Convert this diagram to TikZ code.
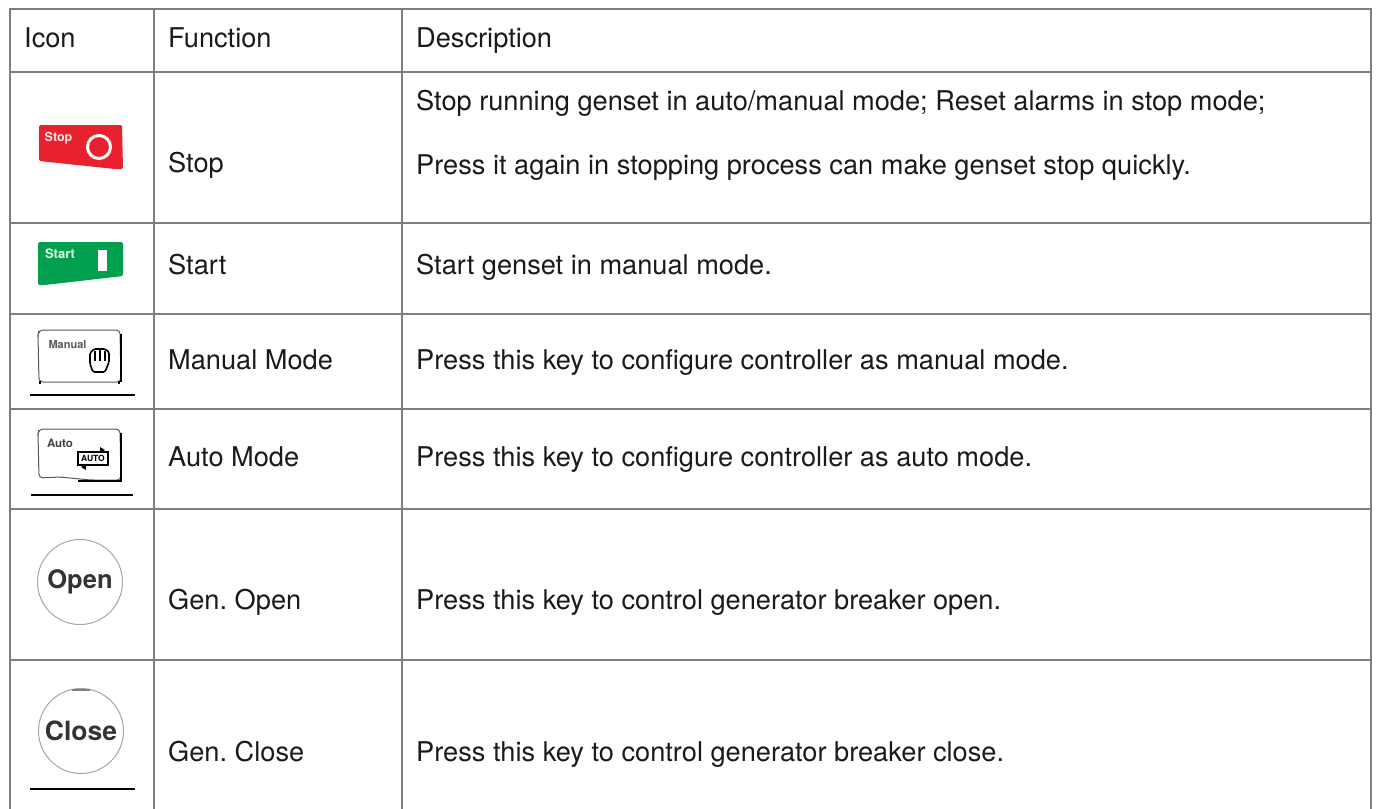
\documentclass[tikz,border=0pt]{standalone}
\usepackage{fontspec}
\setmainfont{TeX Gyre Heros}
\frenchspacing
\definecolor{grid}{HTML}{7F7F7F}
\definecolor{txt}{HTML}{1A1A1A}
\definecolor{stopred}{HTML}{E8212E}
\definecolor{startgreen}{HTML}{00A04F}
\tikzset{
  gridline/.style={draw=grid,line width=2pt},
  cell/.style={anchor=base west,inner sep=0pt,text=txt,font=\fontsize{27.2}{30}\selectfont},
  rulebar/.style={draw=black,line width=1.4pt},
  keybox/.style={draw=black!65,line width=1pt,rounded corners=4pt},
  keyedge/.style={draw=black,line width=2pt},
  tinylabel/.style={inner sep=0pt,font=\fontsize{12.5}{13}\selectfont\bfseries},
  roundkey/.style={circle,draw=black!35,line width=1pt,inner sep=0pt,minimum size=85pt},
  roundlabel/.style={inner sep=0pt,text=black!80,font=\fontsize{25.5}{28}\selectfont\bfseries}
}
\begin{document}
\begin{tikzpicture}[x=1pt,y=-1pt]
\useasboundingbox (0,0) rectangle (1377,809);
\fill[white] (0,0) rectangle (1377,809);
% grid
\foreach \y in {9,72,223,314,409,509,660} \draw[gridline] (9,\y) -- (1372,\y);
\foreach \x in {10,154,402,1371} \draw[gridline] (\x,8) -- (\x,809);
% header
\node[cell] (h1) at (24,47) {Icon};
\node[cell] (h2) at (168,47) {Function};
\node[cell] (h3) at (416,47) {Description};
% text
\node[cell] (f1) at (168,172) {Stop};
\node[cell] (d1a) at (416,110) {Stop running genset in auto/manual mode; Reset alarms in stop mode;};
\node[cell] (d1b) at (416,174) {Press it again in stopping process can make genset stop quickly.};
\node[cell] (f2) at (168,274) {Start};
\node[cell] (d2) at (416,274) {Start genset in manual mode.};
\node[cell] (f3) at (168,369) {Manual Mode};
\node[cell] (d3) at (416,369) {Press this key to configure controller as manual mode.};
\node[cell] (f4) at (168,466) {Auto Mode};
\node[cell] (d4) at (416,466) {Press this key to configure controller as auto mode.};
\node[cell] (f5) at (168,609) {Gen. Open};
\node[cell] (d5) at (416,609) {Press this key to control generator breaker open.};
\node[cell] (f6) at (168,761) {Gen. Close};
\node[cell] (d6) at (416,761) {Press this key to control generator breaker close.};
% stop icon
\fill[stopred,rounded corners=1.5pt] (39,125) -- (122,125) -- (123,169) -- (115,169) -- (39,161) -- cycle;
\draw[white,line width=3pt] (99,147) circle (11.5);
\node[tinylabel,text=white!90!red] (stoplabel) at (58.5,138) {Stop};
% start icon
\fill[startgreen,rounded corners=1.5pt] (38,242) -- (123,242) -- (123,276) -- (45,285) -- (38,285) -- cycle;
\fill[white] (98,250) rectangle (107,271);
\node[tinylabel,text=white!90!green,font=\fontsize{13}{14}\selectfont\bfseries] (startlabel) at (60,254) {Start};
% manual icon
\draw[keybox] (39,382) -- (38,335) -- (39,330) -- (120,330) -- (121,382) -- cycle;
\draw[keyedge] (121,334) -- (121,382);
\draw[black,line width=1.3pt] (40,381) -- (40,384) (119,381) -- (119,384);
\node[inner sep=0pt,text=black!65,font=\fontsize{11}{12}\selectfont\bfseries] (manuallabel) at (67.5,345) {Manual};
\draw[black,line width=1.6pt,rounded corners=1.5pt] (90,353) -- (90,364) -- (93,372) -- (105,372) -- (109,362) -- (109,352) -- (105,349) -- (94,349) -- cycle;
\draw[black,line width=1.4pt] (95,351) -- (95,361) (100,350) -- (100,361) (105,351) -- (105,361);
\draw[rulebar] (30,395) -- (135,395);
% auto icon
\draw[keybox] (39,478) -- (38,434) -- (39,429) -- (120,429) -- (121,480) -- (90,480) -- (60,477) -- cycle;
\draw[keyedge] (121,433) -- (121,481) -- (78,481);
\node[inner sep=0pt,text=black!75,font=\fontsize{11.5}{12}\selectfont\bfseries] (autolabel) at (60,443) {Auto};
\draw[black,line width=1.4pt] (78,452) rectangle (108,465);
\fill[black] (100,447) -- (105,450) -- (100,453) -- cycle (86,464) -- (81,467) -- (86,470) -- cycle;
\node[inner sep=0pt,text=black,font=\fontsize{8.5}{9}\selectfont\bfseries] (autoinner) at (93,458.5) {AUTO};
\draw[rulebar] (31,495) -- (133,495);
% round keys
\node[roundkey] (openkey) at (80,582) {};
\node[roundlabel] (openlabel) at (80,582) {Open};
\node[roundkey] (closekey) at (81,731) {};
\node[roundlabel,font=\fontsize{26.5}{28}\selectfont\bfseries] (closelabel) at (81,731) {Close};
\draw[black!50,line width=1.6pt] (72,690) -- (90,690);
\draw[rulebar] (30,789) -- (135,789);
\end{tikzpicture}
\end{document}
